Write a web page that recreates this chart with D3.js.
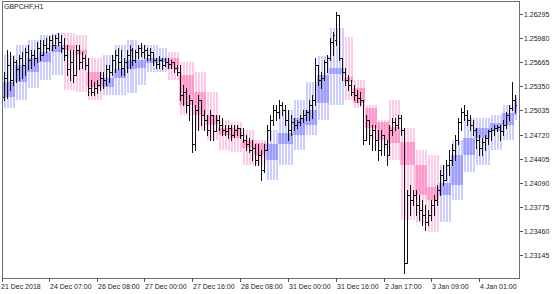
<!DOCTYPE html>
<html><head><meta charset="utf-8">
<script src="https://cdn.jsdelivr.net/npm/d3@7"></script>
<style>html,body{margin:0;padding:0;background:#fff;}svg{display:block;}text{font-family:"Liberation Sans",Arial,sans-serif;}</style>
</head><body>
<svg id="c" width="560" height="294"></svg>
<script>
const title = "GBPCHF,H1";
const open = [1.2521,1.2546,1.2563,1.2543,1.2567,1.2557,1.2572,1.2563,1.2580,1.2570,
1.2576,1.2572,1.2585,1.2576,1.2589,1.2585,1.2596,1.2589,1.2598,1.2593,
1.2585,1.2576,1.2557,1.2567,1.2550,1.2583,1.2567,1.2572,1.2563,1.2533,
1.2528,1.2533,1.2537,1.2546,1.2543,1.2557,1.2554,1.2570,1.2576,1.2567,
1.2559,1.2567,1.2576,1.2583,1.2570,1.2580,1.2585,1.2580,1.2583,1.2576,
1.2580,1.2570,1.2564,1.2570,1.2563,1.2567,1.2564,1.2567,1.2559,1.2554,
1.2524,1.2528,1.2511,1.2517,1.2459,1.2504,1.2517,1.2498,1.2491,1.2478,
1.2498,1.2476,1.2491,1.2485,1.2478,1.2476,1.2481,1.2472,1.2478,1.2481,
1.2472,1.2465,1.2459,1.2452,1.2455,1.2439,1.2445,1.2426,1.2452,1.2478,
1.2491,1.2504,1.2502,1.2511,1.2504,1.2491,1.2478,1.2489,1.2485,1.2489,
1.2494,1.2498,1.2502,1.2511,1.2517,1.2563,1.2543,1.2546,1.2567,1.2572,
1.2593,1.2596,1.2628,1.2572,1.2554,1.2543,1.2537,1.2528,1.2524,1.2520,
1.2517,1.2465,1.2491,1.2472,1.2478,1.2465,1.2452,1.2472,1.2459,1.2445,
1.2478,1.2489,1.2485,1.2494,1.2478,1.2304,1.2393,1.2387,1.2393,1.2380,
1.2373,1.2367,1.2358,1.2367,1.2380,1.2387,1.2400,1.2419,1.2413,1.2432,
1.2439,1.2452,1.2465,1.2489,1.2502,1.2498,1.2491,1.2485,1.2478,1.2465,
1.2455,1.2462,1.2468,1.2476,1.2478,1.2481,1.2482,1.2476,1.2485,1.2498,
1.2507,1.2517];
const high = [1.2554,1.2583,1.2580,1.2574,1.2570,1.2576,1.2580,1.2585,1.2589,1.2583,
1.2583,1.2593,1.2596,1.2596,1.2598,1.2601,1.2602,1.2602,1.2605,1.2602,
1.2598,1.2589,1.2583,1.2583,1.2589,1.2589,1.2580,1.2576,1.2572,1.2543,
1.2541,1.2543,1.2554,1.2554,1.2563,1.2563,1.2576,1.2583,1.2585,1.2583,
1.2572,1.2583,1.2589,1.2585,1.2583,1.2589,1.2592,1.2589,1.2585,1.2585,
1.2580,1.2572,1.2574,1.2572,1.2572,1.2572,1.2570,1.2567,1.2563,1.2563,
1.2537,1.2533,1.2524,1.2517,1.2511,1.2524,1.2517,1.2504,1.2498,1.2504,
1.2498,1.2498,1.2498,1.2494,1.2485,1.2485,1.2485,1.2485,1.2485,1.2481,
1.2481,1.2472,1.2468,1.2465,1.2459,1.2459,1.2452,1.2459,1.2485,1.2498,
1.2511,1.2511,1.2517,1.2515,1.2511,1.2504,1.2498,1.2494,1.2491,1.2498,
1.2504,1.2504,1.2517,1.2524,1.2572,1.2563,1.2554,1.2570,1.2576,1.2598,
1.2606,1.2632,1.2628,1.2572,1.2559,1.2550,1.2543,1.2537,1.2530,1.2528,
1.2517,1.2498,1.2491,1.2485,1.2485,1.2478,1.2478,1.2472,1.2465,1.2485,
1.2494,1.2494,1.2498,1.2498,1.2481,1.2400,1.2406,1.2400,1.2400,1.2393,
1.2387,1.2380,1.2373,1.2387,1.2393,1.2406,1.2426,1.2432,1.2439,1.2452,
1.2459,1.2472,1.2494,1.2507,1.2511,1.2504,1.2498,1.2491,1.2481,1.2472,
1.2468,1.2472,1.2478,1.2481,1.2485,1.2485,1.2485,1.2491,1.2502,1.2511,
1.2540,1.2524];
const low = [1.2517,1.2520,1.2530,1.2537,1.2541,1.2543,1.2546,1.2550,1.2557,1.2559,
1.2563,1.2567,1.2570,1.2576,1.2580,1.2583,1.2583,1.2585,1.2589,1.2580,
1.2570,1.2550,1.2543,1.2541,1.2550,1.2557,1.2559,1.2557,1.2524,1.2524,
1.2524,1.2526,1.2530,1.2533,1.2537,1.2540,1.2550,1.2554,1.2557,1.2550,
1.2550,1.2554,1.2559,1.2563,1.2567,1.2572,1.2575,1.2572,1.2570,1.2570,
1.2563,1.2559,1.2559,1.2557,1.2562,1.2559,1.2559,1.2554,1.2550,1.2517,
1.2511,1.2502,1.2491,1.2449,1.2452,1.2478,1.2485,1.2478,1.2472,1.2465,
1.2465,1.2476,1.2478,1.2472,1.2472,1.2468,1.2465,1.2469,1.2472,1.2468,
1.2462,1.2452,1.2449,1.2439,1.2432,1.2432,1.2413,1.2423,1.2452,1.2465,
1.2485,1.2491,1.2494,1.2498,1.2485,1.2465,1.2472,1.2478,1.2481,1.2485,
1.2489,1.2491,1.2491,1.2494,1.2511,1.2537,1.2533,1.2543,1.2554,1.2570,
1.2576,1.2589,1.2570,1.2543,1.2537,1.2530,1.2524,1.2517,1.2515,1.2511,
1.2459,1.2465,1.2459,1.2452,1.2452,1.2439,1.2445,1.2445,1.2432,1.2445,
1.2472,1.2478,1.2481,1.2472,1.2291,1.2304,1.2367,1.2380,1.2367,1.2360,
1.2354,1.2347,1.2354,1.2360,1.2367,1.2380,1.2393,1.2406,1.2413,1.2419,
1.2432,1.2439,1.2459,1.2478,1.2491,1.2485,1.2478,1.2472,1.2455,1.2445,
1.2445,1.2452,1.2459,1.2465,1.2472,1.2476,1.2465,1.2472,1.2481,1.2491,
1.2504,1.2502];
const close = [1.2546,1.2563,1.2543,1.2567,1.2557,1.2572,1.2563,1.2580,1.2570,1.2576,
1.2572,1.2585,1.2576,1.2589,1.2585,1.2596,1.2589,1.2598,1.2593,1.2585,
1.2576,1.2557,1.2567,1.2550,1.2583,1.2567,1.2572,1.2563,1.2533,1.2528,
1.2533,1.2537,1.2546,1.2543,1.2557,1.2554,1.2570,1.2576,1.2567,1.2559,
1.2567,1.2576,1.2583,1.2570,1.2580,1.2585,1.2580,1.2583,1.2576,1.2580,
1.2570,1.2564,1.2570,1.2563,1.2567,1.2564,1.2567,1.2559,1.2554,1.2524,
1.2528,1.2511,1.2517,1.2459,1.2504,1.2517,1.2498,1.2491,1.2478,1.2498,
1.2476,1.2491,1.2485,1.2478,1.2476,1.2481,1.2472,1.2478,1.2481,1.2472,
1.2465,1.2459,1.2452,1.2455,1.2439,1.2445,1.2426,1.2452,1.2478,1.2491,
1.2504,1.2502,1.2511,1.2504,1.2491,1.2478,1.2489,1.2485,1.2489,1.2494,
1.2498,1.2502,1.2511,1.2517,1.2563,1.2543,1.2546,1.2567,1.2572,1.2593,
1.2602,1.2628,1.2572,1.2554,1.2543,1.2537,1.2528,1.2524,1.2520,1.2517,
1.2465,1.2491,1.2472,1.2478,1.2465,1.2452,1.2472,1.2459,1.2445,1.2478,
1.2489,1.2485,1.2494,1.2478,1.2304,1.2393,1.2387,1.2393,1.2380,1.2373,
1.2367,1.2358,1.2367,1.2380,1.2387,1.2400,1.2419,1.2413,1.2432,1.2439,
1.2452,1.2465,1.2489,1.2502,1.2498,1.2491,1.2485,1.2478,1.2465,1.2455,
1.2462,1.2468,1.2476,1.2478,1.2481,1.2482,1.2476,1.2485,1.2498,1.2507,
1.2517,1.2511];

// indicator steps (bar index ranges)
const stepStart = [0,4,8,12,16,20,24,28,33,37,41,45,48,52,55,59,64,68,72,76,80,84,88,92,97,101,105,109,114,117,121,125,129,133,138,142,146,150,154,158,163,167,171];
const stepEnd   = [3,7,11,15,19,23,27,32,36,40,44,47,51,54,58,63,67,71,75,79,83,87,91,96,100,104,108,113,116,120,124,128,132,137,141,145,149,153,157,162,166,170,171];
const stepDir   = [1,1,1,1,1,-1,-1,-1,1,1,1,1,1,1,-1,-1,-1,-1,-1,-1,-1,-1,1,1,1,1,1,1,-1,-1,-1,-1,-1,-1,-1,-1,1,1,1,1,1,1,1];
const bandHi  = [1.2576,1.2589,1.2596,1.2602,1.2605,1.2605,1.2602,1.2572,1.2576,1.2589,1.2596,1.2589,1.2589,1.2585,1.2580,1.2567,1.2554,1.2528,1.2491,1.2489,1.2478,1.2465,1.2478,1.2504,1.2517,1.2541,1.2574,1.2611,1.2600,1.2543,1.2511,1.2491,1.2517,1.2481,1.2452,1.2445,1.2432,1.2465,1.2494,1.2494,1.2498,1.2511,1.2524];
const bandLo  = [1.2507,1.2517,1.2533,1.2543,1.2550,1.2530,1.2528,1.2517,1.2524,1.2524,1.2526,1.2537,1.2554,1.2554,1.2543,1.2498,1.2478,1.2465,1.2452,1.2449,1.2432,1.2432,1.2413,1.2432,1.2452,1.2472,1.2491,1.2511,1.2517,1.2507,1.2465,1.2455,1.2439,1.2360,1.2357,1.2345,1.2358,1.2387,1.2423,1.2432,1.2452,1.2465,1.2491];
const coreHi  = [1.2540,1.2563,1.2572,1.2580,1.2589,1.2589,1.2583,1.2554,1.2546,1.2557,1.2570,1.2570,1.2572,1.2572,1.2572,1.2550,1.2528,1.2498,1.2481,1.2481,1.2465,1.2461,1.2459,1.2474,1.2494,1.2504,1.2550,1.2559,1.2547,1.2533,1.2507,1.2489,1.2482,1.2462,1.2432,1.2404,1.2409,1.2445,1.2468,1.2481,1.2487,1.2500,1.2517];
const coreLo  = [1.2521,1.2540,1.2554,1.2567,1.2580,1.2583,1.2576,1.2534,1.2534,1.2546,1.2557,1.2559,1.2566,1.2567,1.2557,1.2511,1.2498,1.2485,1.2472,1.2468,1.2455,1.2445,1.2439,1.2459,1.2472,1.2485,1.2513,1.2551,1.2540,1.2513,1.2481,1.2465,1.2461,1.2432,1.2393,1.2387,1.2393,1.2406,1.2445,1.2468,1.2476,1.2485,1.2498];

const yTicks = [1.23145,1.23460,1.23775,1.24090,1.24405,1.24720,1.25035,1.25350,1.25665,1.25980,1.26295];
const firstLabel = "21 Dec 2018";
const xTickIdx = [15,31,47,63,79,95,111,127,143,159];
const xTickLabels = ["24 Dec 07:00","26 Dec 08:00","27 Dec 00:00","27 Dec 16:00","28 Dec 08:00","31 Dec 00:00","31 Dec 16:00","2 Jan 17:00","3 Jan 09:00","4 Jan 01:00"];

const L = 2, R = 520, T = 2, B = 278;
const svg = d3.select("#c");
svg.append("rect").attr("width",560).attr("height",294).attr("fill","#fff");
const x = d3.scaleLinear().domain([0, open.length-1]).range([4, 515]);
const y = d3.scaleLinear().domain([1.22845, 1.26452]).range([B, T]);
const px = i => Math.round(x(i));

const col = {1:{band:"rgba(90,90,255,0.30)", core:"rgba(90,90,255,0.42)"}, "-1":{band:"rgba(255,80,170,0.30)", core:"rgba(255,80,170,0.42)"}};
const gInd = svg.append("g");
stepStart.forEach((s, k) => {
  const e = stepEnd[k], c = col[stepDir[k]];
  gInd.append("rect").attr("x", px(s)-1).attr("width", px(e)-px(s)+3)
    .attr("y", Math.round(y(coreHi[k]))).attr("height", Math.max(1, Math.round(y(coreLo[k]))-Math.round(y(coreHi[k]))))
    .attr("fill", c.core);
  gInd.selectAll(null).data(d3.range(s, e+1)).join("rect")
    .attr("x", i => px(i)).attr("width", 2)
    .attr("y", Math.round(y(bandHi[k]))).attr("height", Math.round(y(bandLo[k]))-Math.round(y(bandHi[k])))
    .attr("fill", c.band);
});

const gBars = svg.append("g").attr("fill","#111");
const idx = d3.range(open.length);
gBars.selectAll(".v").data(idx).join("rect").attr("x", i=>px(i)).attr("width",1)
  .attr("y", i=>Math.round(y(high[i]))).attr("height", i=>Math.max(1, Math.round(y(low[i]))-Math.round(y(high[i]))+1));
gBars.selectAll(".o").data(idx).join("rect").attr("x", i=>px(i)-1).attr("width",1)
  .attr("y", i=>Math.round(y(open[i]))).attr("height",1);
gBars.selectAll(".cl").data(idx).join("rect").attr("x", i=>px(i)+1).attr("width",1)
  .attr("y", i=>Math.round(y(close[i]))).attr("height",1);

// frame
const fr = svg.append("g").attr("stroke","#6e6e6e").attr("stroke-width",1).attr("fill","none");
fr.append("rect").attr("x", L+0.5).attr("y", T-0.5).attr("width", R-L-1).attr("height", B-T+1);

// y axis
const gy = svg.append("g");
yTicks.forEach(v => {
  const yy = Math.round(y(v)) + 0.5;
  gy.append("line").attr("x1", R).attr("x2", R+3).attr("y1", yy).attr("y2", yy).attr("stroke","#555");
  gy.append("text").attr("x", R+4).attr("y", yy+2.5).attr("font-size", "7px").attr("fill","#222").text(v.toFixed(5));
});

// x axis
const gx = svg.append("g");
gx.append("line").attr("x1", L+0.5).attr("x2", L+0.5).attr("y1", B).attr("y2", B+4).attr("stroke","#555");
gx.append("text").attr("x", L-1).attr("y", 289).attr("font-size","7px").attr("fill","#222").text(firstLabel);
xTickIdx.forEach((ti, k) => {
  const xx = px(ti) + 0.5;
  gx.append("line").attr("x1", xx).attr("x2", xx).attr("y1", B).attr("y2", B+4).attr("stroke","#555");
  gx.append("text").attr("x", xx+0.5).attr("y", 289).attr("font-size","7px").attr("fill","#222").text(xTickLabels[k]);
});

svg.append("text").attr("x", 4).attr("y", 9).attr("font-size","7px").attr("fill","#222").text(title);
</script>
</body></html>
